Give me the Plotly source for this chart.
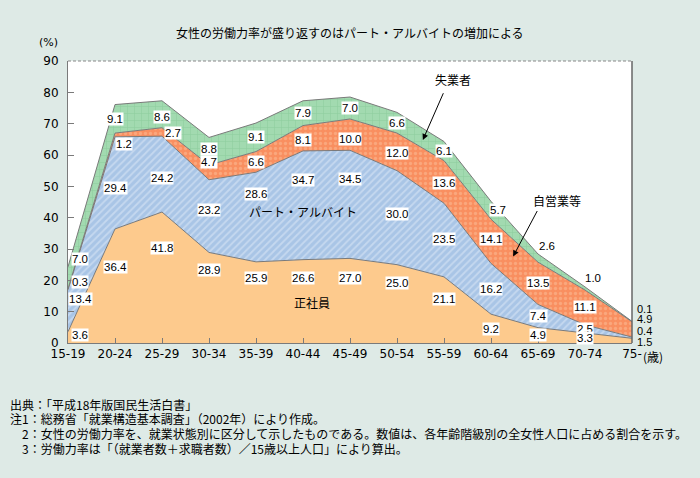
import numpy as np
import plotly.graph_objects as go

# ---------------- data ----------------
age_groups = ["15-19", "20-24", "25-29", "30-34", "35-39", "40-44", "45-49",
              "50-54", "55-59", "60-64", "65-69", "70-74", "75-"]
regular = [3.6, 36.4, 41.8, 28.9, 25.9, 26.6, 27.0, 25.0, 21.1, 9.2, 4.9, 3.3, 1.5]          # 正社員
part_time = [13.4, 29.4, 24.2, 23.2, 28.6, 34.7, 34.5, 30.0, 23.5, 16.2, 7.4, 2.5, 0.4]      # パート・アルバイト
self_employed = [0.3, 1.2, 2.7, 4.7, 6.6, 8.1, 10.0, 12.0, 13.6, 14.1, 13.5, 11.1, 4.9]     # 自営業等
unemployed = [7.0, 9.1, 8.6, 8.8, 9.1, 7.9, 7.0, 6.6, 6.1, 5.7, 2.6, 1.0, 0.1]              # 失業者

series_names = ["正社員", "パート・アルバイト", "自営業等", "失業者"]
series_values = [regular, part_time, self_employed, unemployed]

title_text = "女性の労働力率が盛り返すのはパート・アルバイトの増加による"
notes = [
    "出典：「平成18年版国民生活白書」",
    "注1：総務省「就業構造基本調査」（2002年）により作成。",
    "　2：女性の労働力率を、就業状態別に区分して示したものである。数値は、各年齢階級別の全女性人口に占める割合を示す。",
    "　3：労働力率は「（就業者数＋求職者数）／15歳以上人口」により算出。",
]

# ---------------- styles ----------------
FONT = "Noto Sans CJK JP"
NUMFONT = "Liberation Sans"
TICKFONT = "DejaVu Sans"
BG = "#DEEAE6"
EDGE = "#7a7a7a"
styles = [
    dict(fillcolor="#FDCA8D", fillpattern=None),
    dict(fillcolor="#A9C5E6", fillpattern=dict(shape="/", bgcolor="#A9C5E6", fgcolor="#E2ECF8",
                                                 size=5, solidity=0.35)),
    dict(fillcolor="#F98F60", fillpattern=dict(shape=".", bgcolor="#F98F60", fgcolor="#FBC09A",
                                                 size=5, solidity=0.35)),
    dict(fillcolor="#A2DAB0", fillpattern=dict(shape="+", bgcolor="#A2DAB0", fgcolor="#78C08C",
                                                 size=7, solidity=0.15)),
]

x = np.arange(len(age_groups))
fig = go.Figure()
for name, vals, st in zip(series_names, series_values, styles):
    kw = dict(x=x, y=vals, name=name, mode="lines", stackgroup="one",
              line=dict(color=EDGE, width=1), fillcolor=st["fillcolor"], showlegend=False,
              hoverinfo="skip")
    if st["fillpattern"] is not None:
        kw["fillpattern"] = st["fillpattern"]
    fig.add_trace(go.Scatter(**kw))

# ---------------- value labels ----------------
# nudges (data units) relative to the middle of each band, and pixel x-shifts
nudge = {
    0: {0: 0.8, 1: 6.1, 2: 9.4, 3: 8.9, 4: 7.8, 5: 7.4, 6: 7.2, 7: 6.7, 8: 3.5},
    1: {0: 3.7, 1: -1.6, 2: -1.2, 3: 1.9, 4: 7.4, 5: 8.0, 6: 8.0, 7: 1.2, 8: 0.3},
    2: {0: 2.3, 1: -2.9, 2: -0.3, 3: 3.3, 5: -0.5, 6: -1.4, 7: -0.4, 8: -0.4, 9: 0.7},
    3: {0: 6.0, 2: -0.9, 3: 0.7, 10: 3.9, 11: 3.3},
}
xshift = {(k, 0): 12 for k in range(4)}
xshift.update({(2, 1): 9, (2, 2): 11, (3, 9): 7, (3, 10): 9, (3, 11): 8})
last_y_px = {3: 309, 2: 319, 1: 331, 0: 342}  # labels to the right of the last column
NUMSIZE = 11.5

bottoms = []
cum = np.zeros(len(age_groups))
for vals in series_values:
    bottoms.append(cum.copy())
    cum = cum + np.array(vals)

annotations = []
# draw upper series first so lower-series boxes sit on top (as in the reference)
for k in reversed(range(len(series_values))):
    vals = np.array(series_values[k])
    for i, v in enumerate(vals):
        if i == len(age_groups) - 1:
            continue
        y = bottoms[k][i] + v / 2 + nudge[k].get(i, 0.0)
        annotations.append(dict(
            x=i, y=y, xref="x", yref="y", text=f"{v:.1f}", showarrow=False,
            xshift=xshift.get((k, i), 0),
            font=dict(family=NUMFONT, size=NUMSIZE, color="black"),
            bgcolor="white" if not (k == 3 and i >= 10) else None, borderpad=0))

# last column labels (outside, right)
for k, vals in enumerate(series_values):
    v = vals[-1]
    annotations.append(dict(
        x=1, xref="paper", y=(343 - last_y_px[k]) / 282 * 90, yref="y",
        text=f"{v:.1f}", showarrow=False, xanchor="left", xshift=3,
        font=dict(family=NUMFONT, size=11, color="black")))

# series name labels and arrows
annotations += [
    dict(x=5.0, y=42.0, text="パート・アルバイト", showarrow=False,
         font=dict(family=FONT, size=12, color="black")),
    dict(x=5.2, y=12.8, text="正社員", showarrow=False,
         font=dict(family=FONT, size=12, color="black")),
    dict(x=7.55, y=64.8, ax=8.0, ay=80.2, axref="x", ayref="y", text="",
         showarrow=True, arrowhead=2, arrowsize=1.2, arrowwidth=1, arrowcolor="black"),
    dict(x=8.2, y=84.0, text="失業者", showarrow=False,
         font=dict(family=FONT, size=12, color="black")),
    dict(x=9.47, y=27.6, ax=10.0, ay=42.6, axref="x", ayref="y", text="",
         showarrow=True, arrowhead=2, arrowsize=1.2, arrowwidth=1, arrowcolor="black"),
    dict(x=10.4, y=45.5, text="自営業等", showarrow=False,
         font=dict(family=FONT, size=12, color="black")),
    dict(x=0.5, y=1, xref="paper", yref="paper", yshift=29, text=title_text, showarrow=False,
         xanchor="center", yanchor="middle", font=dict(family=FONT, size=12, color="black")),
    dict(x=0, y=1, xref="paper", yref="paper", xshift=-20, yshift=19, text="(%)",
         xanchor="center", yanchor="middle",
         showarrow=False, font=dict(family=TICKFONT, size=11, color="black")),
    dict(x=1, y=0, xref="paper", yref="paper", xshift=9, yshift=-3, text="(歳)",
         xanchor="left", yanchor="top", showarrow=False,
         font=dict(family=FONT, size=12, color="black")),
]
for j, line in enumerate(notes):
    annotations.append(dict(
        x=0, y=0, xref="paper", yref="paper", xshift=-60, yshift=-61 - 14.8 * j,
        text=line, showarrow=False, xanchor="left", yanchor="middle",
        font=dict(family=FONT, size=12, color="black")))

fig.update_layout(
    width=700, height=478,
    margin=dict(l=68, r=68, t=61, b=135),
    paper_bgcolor=BG, plot_bgcolor="white",
    font=dict(family=FONT, size=12, color="black"),
    annotations=annotations,
    xaxis=dict(range=[0, 12], tickmode="array", tickvals=list(x), ticktext=age_groups,
               ticks="inside", ticklen=5, tickcolor=EDGE, showline=True, linecolor=EDGE,
               showgrid=False, zeroline=False, tickfont=dict(family=TICKFONT, size=12)),
    yaxis=dict(range=[0, 90], dtick=10, ticks="inside", ticklen=6, tickcolor=EDGE,
               showline=True, linecolor=EDGE, showgrid=False, zeroline=False,
               ticklabelstandoff=6, tickfont=dict(family=TICKFONT, size=12)),
    shapes=[
        dict(type="line", xref="paper", yref="paper", x0=0, x1=1, y0=1, y1=1,
             line=dict(color="#888888", width=1, dash="3px,2px")),
        dict(type="line", xref="paper", yref="paper", x0=1, x1=1, y0=0, y1=1,
             line=dict(color="#666666", width=1.5)),
    ],
)

fig.write_html("out.html", config={"displayModeBar": False},
               post_script="document.body.style.margin='0';document.body.style.overflow='hidden';")
